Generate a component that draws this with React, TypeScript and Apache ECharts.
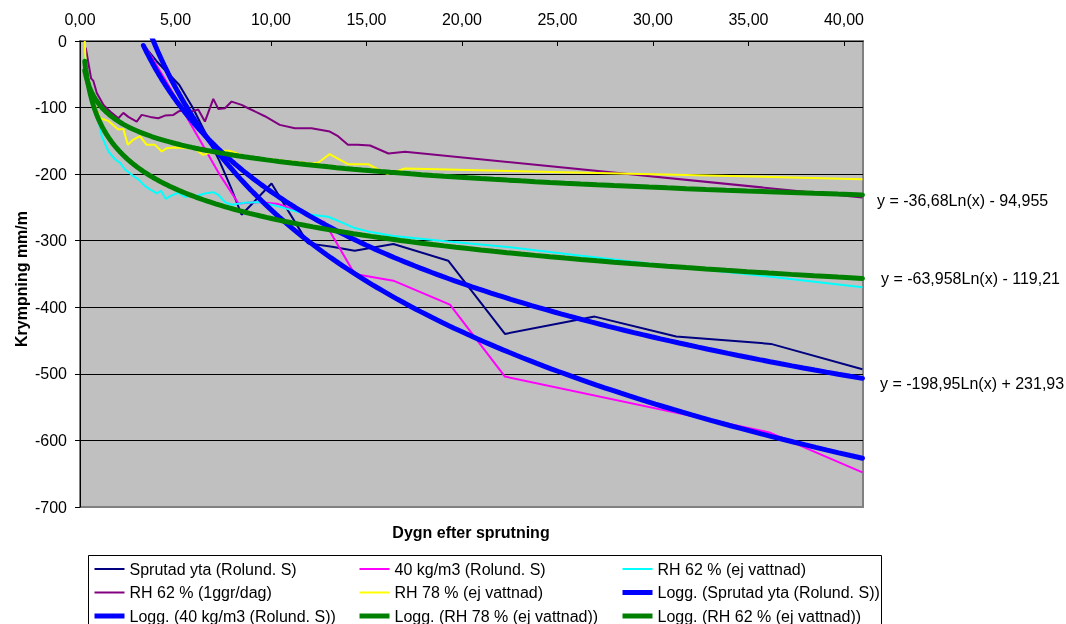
import React, { useEffect, useRef } from "react";
import * as echarts from "echarts";

const FONT = '"Liberation Sans", Arial, sans-serif';

// X tick labels (days) and Y range
const xTicks = [0, 5, 10, 15, 20, 25, 30, 35, 40];
const yTicks = [0, -100, -200, -300, -400, -500, -600, -700];

// Sprutad yta (Rolund. S)
const sprutadX = [3.32, 4.0, 4.6, 5.2, 5.9, 6.6, 7.3, 7.9, 8.46, 10.03, 11.94, 13.2, 14.38, 16.41, 19.28, 22.25, 26.95, 31.22, 36.18, 40.97];
const sprutadY = [-6, -30, -48, -66, -100, -140, -180, -220, -261, -214, -304, -309, -315, -305, -330, -440, -414, -444, -455, -493];

// 40 kg/m3 (Rolund. S)
const kg40X = [3.5, 4.5, 5.5, 6.5, 7.3, 8.3, 9.4, 10.4, 11.1, 12.8, 14.38, 16.41, 19.37, 22.25, 36.1, 40.97];
const kg40Y = [-12, -60, -110, -160, -200, -244, -242, -245, -252, -272, -350, -360, -396, -504, -588, -648];

// RH 62 % (ej vattnad)
const rh62eX = [0.25, 0.5, 0.75, 1.0, 1.14, 1.49, 1.84, 2.1, 2.36, 2.71, 3.06, 3.41, 3.67, 4.02, 4.24, 4.49, 4.8, 5.15, 5.5, 5.85, 6.19, 6.54, 6.98, 7.24, 7.59, 7.94, 8.63, 9.33, 10.03, 10.72, 11.42, 12.12, 12.99, 13.68, 14.38, 15.08, 16.41, 19.28, 22.25, 26.95, 31.22, 36.18, 40.97];
const rh62eY = [-20, -75, -105, -124, -143, -166, -178, -183, -193, -201, -208, -218, -223, -229, -225, -237, -232, -228, -234, -233, -232, -229, -227, -231, -242, -246, -243, -242, -246, -251, -257, -261, -264, -272, -281, -286, -293, -301, -309, -325, -339, -354, -370];

// RH 62 % (1ggr/dag)
const rh62dX = [0.3, 0.58, 0.7, 0.88, 1.23, 1.66, 2.01, 2.27, 2.53, 2.97, 3.23, 3.67, 4.1, 4.45, 4.89, 5.15, 5.5, 5.84, 6.19, 6.54, 6.98, 7.24, 7.59, 7.94, 8.46, 8.81, 9.68, 10.46, 11.25, 12.12, 13.08, 13.51, 14.03, 14.55, 15.19, 16.15, 17.02, 40.97];
const rh62dY = [-10, -56, -60, -78, -96, -108, -116, -108, -114, -121, -111, -114, -116, -112, -111, -106, -103, -106, -103, -121, -87, -102, -101, -91, -96, -101, -113, -126, -131, -131, -136, -143, -156, -156, -157, -169, -166.5, -235];

// RH 78 % (ej vattnad)
const rh78X = [0.25, 0.3, 0.53, 0.79, 1.05, 1.49, 2.01, 2.27, 2.5, 2.8, 3.14, 3.49, 3.93, 4.28, 4.54, 4.97, 5.67, 6.02, 6.45, 6.8, 7.41, 7.85, 8.63, 9.4, 10.72, 12.12, 12.47, 13.07, 14.03, 15.08, 16.1, 17.02, 40.97];
const rh78Y = [0, -38, -68, -98, -116, -120, -133, -132, -156, -148, -143, -156, -156, -166, -161, -160, -161, -162, -171, -168, -165, -165, -173, -176, -180, -184, -183, -170, -185, -185, -200, -191.5, -207.5];

// Logarithmic trend lines y = a*Ln(x) + b (coefficients as printed; 40 kg/m3 estimated)
const trendNames = [
  "Logg. (Sprutad yta (Rolund. S))",
  "Logg. (40 kg/m3 (Rolund. S))",
  "Logg. (RH 78 % (ej vattnad))",
  "Logg. (RH 62 % (ej vattnad))",
];
const trendA = [-198.95, -264.8, -36.68, -63.958];
const trendB = [231.93, 356.4, -94.955, -119.21];
const trendStart = [3.32, 3.5, 0.25, 0.25];
const trendEnd = [40.97, 40.97, 40.97, 40.97];
const trendColors = ["#0000FF", "#0000FF", "#008000", "#008000"];
const trendShowEq = [true, false, true, true];
const eqPos = [
  [880, 383],
  [0, 0],
  [877, 200],
  [881, 278],
];

const dataNames = ["Sprutad yta (Rolund. S)", "40 kg/m3 (Rolund. S)", "RH 62 % (ej vattnad)", "RH 62 % (1ggr/dag)", "RH 78 % (ej vattnad)"];
const dataColors = ["#000080", "#FF00FF", "#00FFFF", "#800080", "#FFFF00"];
const dataXs = [sprutadX, kg40X, rh62eX, rh62dX, rh78X];
const dataYs = [sprutadY, kg40Y, rh62eY, rh62dY, rh78Y];

const legendCols = [
  ["Sprutad yta (Rolund. S)", "RH 62 % (1ggr/dag)", "Logg. (40 kg/m3 (Rolund. S))"],
  ["40 kg/m3 (Rolund. S)", "RH 78 % (ej vattnad)", "Logg. (RH 78 % (ej vattnad))"],
  ["RH 62 % (ej vattnad)", "Logg. (Sprutad yta (Rolund. S))", "Logg. (RH 62 % (ej vattnad))"],
];
const legendLeft = [92, 357, 620];

const fmt = (v: number) => String(v).replace(".", ",");

function trendPoints(a: number, b: number, x0: number, x1: number) {
  const n = 160;
  const pts: number[][] = [];
  for (let i = 0; i <= n; i++) {
    const x = x0 * Math.pow(x1 / x0, i / n);
    pts.push([x, a * Math.log(x) + b]);
  }
  return pts;
}

export default function App() {
  const ref = useRef<HTMLDivElement>(null);
  useEffect(() => {
    if (!ref.current) return;
    const chart = echarts.init(ref.current, undefined, { renderer: "svg" });
    const series: any[] = [];
    dataNames.forEach((name, i) => {
      series.push({
        name,
        type: "line",
        data: dataXs[i].map((x, j) => [x, dataYs[i][j]]),
        symbol: "none",
        showSymbol: false,
        clip: true,
        lineStyle: { color: dataColors[i], width: 2 },
        itemStyle: { color: dataColors[i] },
      });
    });
    trendNames.forEach((name, i) => {
      series.push({
        name,
        type: "line",
        data: trendPoints(trendA[i], trendB[i], trendStart[i], trendEnd[i]),
        symbol: "none",
        showSymbol: false,
        clip: true,
        lineStyle: { color: trendColors[i], width: 5, cap: "round" },
        itemStyle: { color: trendColors[i] },
      });
    });

    const graphics: any[] = [];
    trendNames.forEach((_, i) => {
      if (!trendShowEq[i]) return;
      const b = trendB[i];
      graphics.push({
        type: "text",
        x: eqPos[i][0],
        y: eqPos[i][1],
        style: {
          text: `y = ${fmt(trendA[i])}Ln(x) ${b < 0 ? "-" : "+"} ${fmt(Math.abs(b))}`,
          fontSize: 16,
          fontFamily: FONT,
          fill: "#000",
          align: "left",
          verticalAlign: "middle",
        },
      });
    });
    graphics.push({
      type: "text",
      x: 471,
      y: 532,
      style: { text: "Dygn efter sprutning", fontSize: 16, fontWeight: "bold", fontFamily: FONT, fill: "#000", align: "center", verticalAlign: "middle" },
    });
    graphics.push({
      type: "text",
      x: 21,
      y: 279,
      rotation: Math.PI / 2,
      style: { text: "Krympning mm/m", fontSize: 16, fontWeight: "bold", fontFamily: FONT, fill: "#000", align: "center", verticalAlign: "middle" },
    });
    graphics.push({
      type: "rect",
      shape: { x: 88.5, y: 555.5, width: 793, height: 90 },
      style: { fill: "#fff", stroke: "#000", lineWidth: 1 },
      z: -1,
    });

    const isTrend = (n: string) => trendNames.includes(n);

    chart.setOption({
      animation: false,
      textStyle: { fontFamily: FONT },
      grid: {
        left: 80,
        top: 41,
        right: 203,
        bottom: 117,
        show: true,
        backgroundColor: "#C0C0C0",
        borderColor: "#808080",
        borderWidth: 2,
      },
      xAxis: {
        type: "value",
        position: "top",
        min: xTicks[0],
        max: 41,
        interval: 5,
        axisLine: { show: true, onZero: false, lineStyle: { color: "#000", width: 1 } },
        axisTick: { show: true, inside: true, length: 5, lineStyle: { color: "#000" } },
        axisLabel: {
          fontSize: 16,
          color: "#000",
          margin: 14,
          fontFamily: FONT,
          showMaxLabel: false,
          formatter: (v: number) => (xTicks.includes(v) ? v.toFixed(2).replace(".", ",") : ""),
        },
        splitLine: { show: false },
      },
      yAxis: {
        type: "value",
        min: yTicks[yTicks.length - 1],
        max: yTicks[0],
        interval: 100,
        axisLine: { show: true, onZero: false, lineStyle: { color: "#000", width: 1 } },
        axisTick: { show: true, length: 5, lineStyle: { color: "#000" } },
        axisLabel: { fontSize: 16, color: "#000", margin: 13, fontFamily: FONT },
        splitLine: { show: true, showMinLine: false, showMaxLine: false, lineStyle: { color: "#000", width: 1 } },
      },
      legend: legendCols.map((names, i) => ({
        orient: "vertical",
        left: legendLeft[i],
        top: 561,
        padding: 0,
        itemWidth: 30,
        itemHeight: 16,
        itemGap: 7.5,
        selectedMode: false,
        data: names.map((n) => ({
          name: n,
          lineStyle: { width: isTrend(n) ? 5 : 2, cap: "butt" },
        })),
        itemStyle: { opacity: 0 },
        textStyle: { fontSize: 16, color: "#000", fontFamily: FONT },
      })),
      graphic: graphics,
      series,
    });
    return () => chart.dispose();
  }, []);
  return <div ref={ref} style={{ position: "fixed", left: 0, top: 0, width: 1066, height: 624 }} />;
}
